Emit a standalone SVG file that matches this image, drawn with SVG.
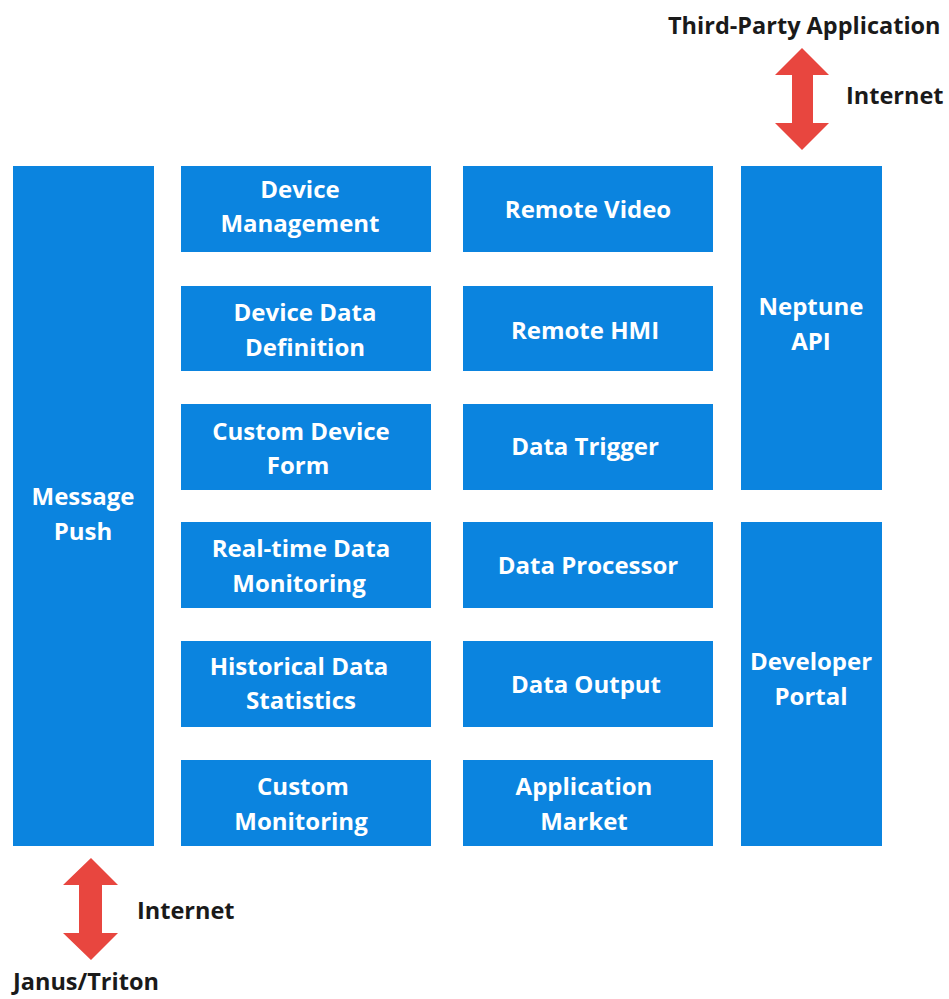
<svg xmlns="http://www.w3.org/2000/svg" width="949" height="999" viewBox="0 0 949 999">
<style>
.box{fill:#0B84DF;}
.t{font-family:"Open Sans","Liberation Sans",sans-serif;font-weight:bold;font-size:24px;fill:#fff;text-anchor:middle;}
.lbl{font-family:"Open Sans","Liberation Sans",sans-serif;font-weight:bold;font-size:23.5px;fill:#1a1a1a;}
.arrow{fill:#E8463F;}
</style>
<rect width="949" height="999" fill="#fff"/>
<g id="message-push"><rect class="box" x="13" y="166" width="141" height="680"/><text class="t" x="83" y="505">Message</text><text class="t" x="83" y="540">Push</text></g>
<g id="device-management"><rect class="box" x="181" y="166" width="250" height="86"/><text class="t" x="300" y="198">Device</text><text class="t" x="300" y="232">Management</text></g>
<g id="device-data-definition"><rect class="box" x="181" y="286" width="250" height="85"/><text class="t" x="305" y="321">Device Data</text><text class="t" x="305" y="356">Definition</text></g>
<g id="custom-device-form"><rect class="box" x="181" y="404" width="250" height="86"/><text class="t" x="301" y="440">Custom Device</text><text class="t" x="298" y="474">Form</text></g>
<g id="realtime-monitoring"><rect class="box" x="181" y="522" width="250" height="86"/><text class="t" x="301" y="557">Real-time Data</text><text class="t" x="299" y="592">Monitoring</text></g>
<g id="historical-statistics"><rect class="box" x="181" y="641" width="250" height="86"/><text class="t" x="299" y="675">Historical Data</text><text class="t" x="301" y="709">Statistics</text></g>
<g id="custom-monitoring"><rect class="box" x="181" y="760" width="250" height="86"/><text class="t" x="303" y="795">Custom</text><text class="t" x="301" y="830">Monitoring</text></g>
<g id="remote-video"><rect class="box" x="463" y="166" width="250" height="86"/><text class="t" x="588" y="218">Remote Video</text></g>
<g id="remote-hmi"><rect class="box" x="463" y="286" width="250" height="85"/><text class="t" x="585" y="339">Remote HMI</text></g>
<g id="data-trigger"><rect class="box" x="463" y="404" width="250" height="86"/><text class="t" x="585" y="455">Data Trigger</text></g>
<g id="data-processor"><rect class="box" x="463" y="522" width="250" height="86"/><text class="t" x="588" y="574">Data Processor</text></g>
<g id="data-output"><rect class="box" x="463" y="641" width="250" height="86"/><text class="t" x="586" y="693">Data Output</text></g>
<g id="application-market"><rect class="box" x="463" y="760" width="250" height="86"/><text class="t" x="584" y="795">Application</text><text class="t" x="584" y="830">Market</text></g>
<g id="neptune-api"><rect class="box" x="741" y="166" width="141" height="324"/><text class="t" x="811" y="315">Neptune</text><text class="t" x="811" y="350">API</text></g>
<g id="developer-portal"><rect class="box" x="741" y="522" width="141" height="324"/><text class="t" x="811" y="670">Developer</text><text class="t" x="811" y="705">Portal</text></g>
<g id="connectors">
<polygon class="arrow" points="802,48 829,75 813,75 813,123 829,123 802,150 775,123 792,123 792,75 775,75"/>
<polygon class="arrow" points="91,858 118,885 102,885 102,933 118,933 91,960 63,933 79,933 79,885 63,885"/>
</g>
<g id="labels">
<text class="lbl" x="668" y="34">Third-Party Application</text>
<text class="lbl" x="846" y="104">Internet</text>
<text class="lbl" x="137" y="919">Internet</text>
<text class="lbl" x="13" y="990">Janus/Triton</text>
</g>
</svg>
